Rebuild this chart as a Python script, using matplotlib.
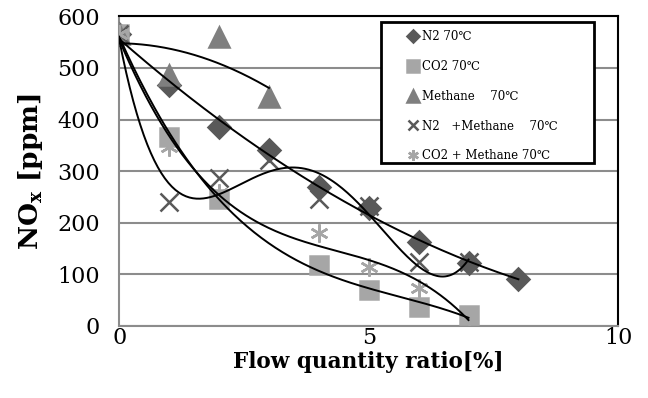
import numpy as np
import matplotlib
matplotlib.use("Agg")
import matplotlib.pyplot as plt
from matplotlib.patches import Rectangle

plt.rcParams['font.family'] = ['DejaVu Serif', 'Noto Sans CJK JP']
plt.rcParams['mathtext.fontset'] = 'dejavuserif'

# data
x_n2 = [0, 1, 2, 3, 4, 5, 6, 7, 8]
y_n2 = [565, 467, 386, 340, 269, 228, 162, 122, 91]

x_co2 = [0, 1, 2, 4, 5, 6, 7]
y_co2 = [565, 366, 246, 118, 70, 37, 21]

x_me = [0, 1, 2, 3]
y_me = [565, 486, 560, 444]

x_n2me = [0, 1, 2, 3, 4, 5, 6, 7]
y_n2me = [565, 240, 287, 322, 246, 233, 124, 124]

x_co2me = [0, 1, 2, 4, 5, 6, 7]
y_co2me = [565, 347, 258, 180, 114, 74, 20]

labels = ["N2 70\u2103", "CO2 70\u2103", "Methane\u3000 70\u2103",
          "N2\u3000+Methane\u3000 70\u2103", "CO2 + Methane 70\u2103"]

# x, y, marker, colour, size, trendline order
series = [
    (x_n2, y_n2, 'D', '#595959', 11, 2),
    (x_co2, y_co2, 's', '#a6a6a6', 13.5, 3),
    (x_me, y_me, '^', '#7f7f7f', 14, 2),
    (x_n2me, y_n2me, 'x', '#595959', 13, 4),
    (x_co2me, y_co2me, (6, 2, 0), '#a6a6a6', 13, 3),
]

fig = plt.figure(figsize=(6.48, 3.98), dpi=100)
ax = fig.add_axes([0.184, 0.181, 0.770, 0.778])

for i, (xs, ys, mk, col, ms, deg) in enumerate(series):
    ax.plot(xs, ys, linestyle='none', marker=mk, color=col, markersize=ms,
            markeredgewidth=1.8, label=labels[i], zorder=3)

# Excel style polynomial trendlines
for xs, ys, mk, col, ms, deg in series:
    coef = np.polyfit(xs, ys, deg)
    xx = np.linspace(min(xs), max(xs), 200)
    ax.plot(xx, np.polyval(coef, xx), color='black', lw=1.4, zorder=4)

ax.set_xlim(0, 10)
ax.set_ylim(0, 600)
ax.set_xticks([0, 5, 10])
ax.set_yticks(range(0, 601, 100))
ax.yaxis.grid(True, color='#8c8c8c', lw=1.5)
ax.set_axisbelow(True)
ax.tick_params(length=0, labelsize=16)
ax.tick_params(axis='x', pad=1)
ax.tick_params(axis='y', pad=14)
for s in ['left', 'bottom']:
    ax.spines[s].set_color('#8c8c8c')
    ax.spines[s].set_linewidth(1.5)
for s in ['top', 'right']:
    ax.spines[s].set_color('black')
    ax.spines[s].set_linewidth(1.5)

ax.set_xlabel("Flow quantity ratio[%]", fontsize=15.5, fontweight='bold', labelpad=1)
ax.set_ylabel(r"NO$_\mathbf{x}$ [ppm]", fontsize=19, fontweight='bold', labelpad=9)

# legend box drawn separately so it can be wider than its entries
ax.add_patch(Rectangle((0.525, 0.526), 0.427, 0.456, transform=ax.transAxes,
                       facecolor='white', edgecolor='black', lw=2, zorder=5,
                       clip_on=False))
leg = ax.legend(loc='upper left', bbox_to_anchor=(0.577, 0.955), fontsize=8.5,
                frameon=False, handlelength=1.0, handletextpad=0.25,
                labelspacing=1.42, borderpad=0, borderaxespad=0,
                markerscale=0.6)
leg.set_zorder(6)

fig.savefig("out.png", dpi=100)
